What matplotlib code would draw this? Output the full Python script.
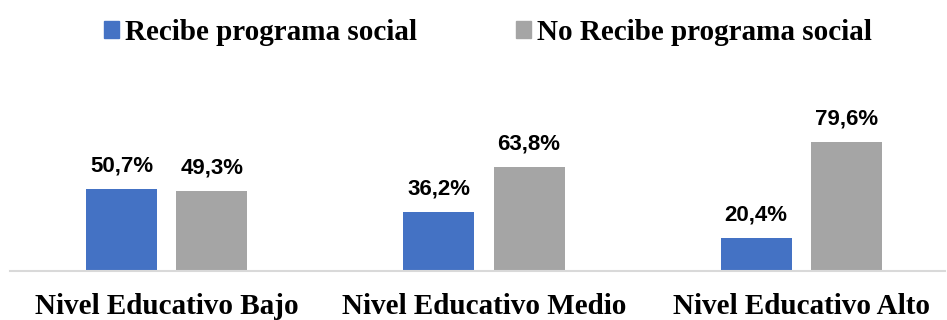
import matplotlib.pyplot as plt
from matplotlib.patches import Patch
import numpy as np

niveles = ["Nivel Educativo Bajo", "Nivel Educativo Medio", "Nivel Educativo Alto"]
recibe = [50.7, 36.2, 20.4]
no_recibe = [49.3, 63.8, 79.6]
series_names = ["Recibe programa social", "No Recibe programa social"]

azul = "#4472C4"
gris = "#A5A5A5"

fig = plt.figure(figsize=(9.47, 3.2), dpi=100)
ax = fig.add_axes([10 / 947, 1 - 271 / 320, 935 / 947, 211 / 320])

x = np.arange(len(niveles))
w = 0.224
off = 0.142
b1 = ax.bar(x - off, recibe, w, color=azul)
b2 = ax.bar(x + off, no_recibe, w, color=gris)

def etiquetas(bars, vals):
    for b, v in zip(bars, vals):
        ax.annotate(f"{v:.1f}%".replace(".", ","),
                    (b.get_x() + b.get_width() / 2, v),
                    xytext=(0, 9), textcoords="offset points",
                    ha="center", va="bottom", fontsize=16,
                    fontweight="bold", family="Liberation Sans")

etiquetas(b1, recibe)
etiquetas(b2, no_recibe)

ax.set_xlim(-0.495, 2.454)
ax.set_ylim(0, 130)
ax.set_yticks([])
ax.set_xticks(x)
ax.set_xticklabels(niveles, fontsize=21, fontweight="bold", family="Liberation Serif")
ax.tick_params(axis="x", length=0, pad=16)
for s in ["top", "right", "left"]:
    ax.spines[s].set_visible(False)
ax.spines["bottom"].set_color("#d9d9d9")
ax.spines["bottom"].set_linewidth(1.5)

handles = [Patch(color=azul), Patch(color=gris)]
fig.legend(handles, series_names, loc="center", bbox_to_anchor=(0.515, 0.9),
           ncol=2, frameon=False, handlelength=0.52, handleheight=0.52,
           handletextpad=0.2, columnspacing=3.4,
           prop={"family": "Liberation Serif", "weight": "bold", "size": 21})

fig.savefig("out.png", dpi=100)
